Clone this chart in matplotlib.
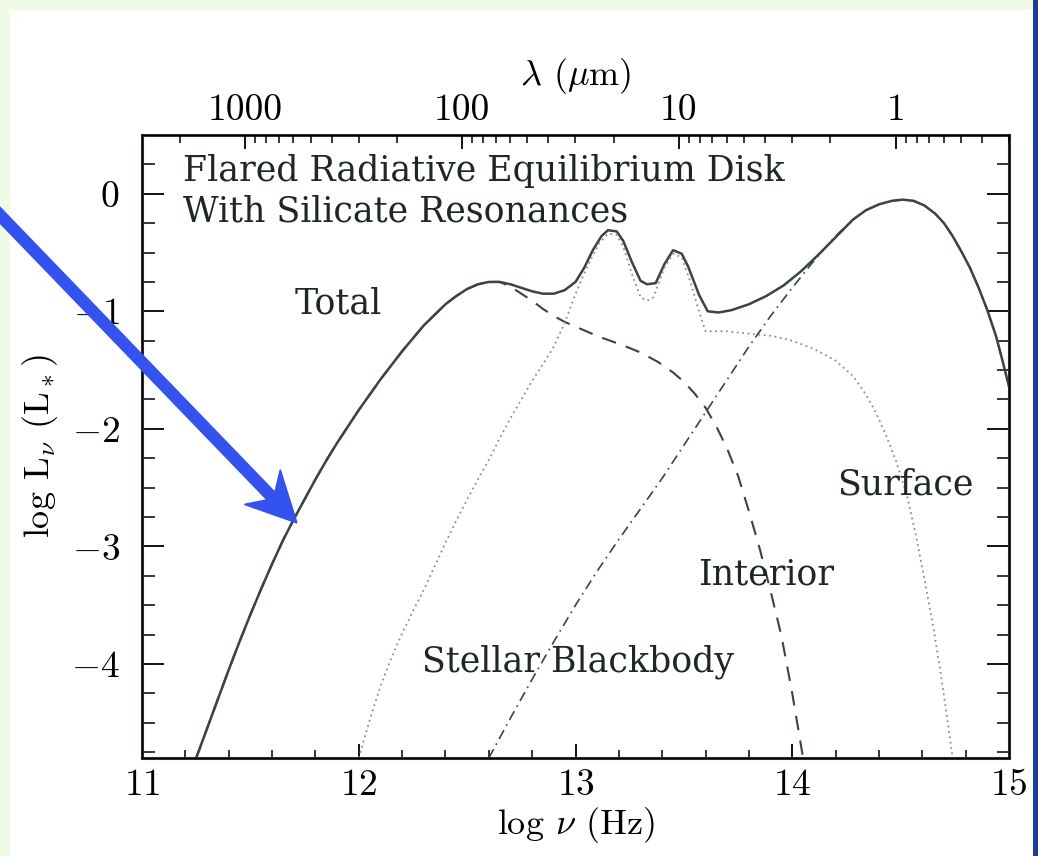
import matplotlib
matplotlib.use("Agg")
import matplotlib.pyplot as plt
from matplotlib.patches import Rectangle, FancyArrow
import numpy as np

plt.rcParams['font.family'] = 'cmr10'
plt.rcParams['mathtext.fontset'] = 'cm'
plt.rcParams['axes.formatter.use_mathtext'] = True

# log nu (Hz), log L_nu (L_*)
total_x = [11.25, 11.30, 11.35, 11.40, 11.45, 11.50, 11.55, 11.60, 11.65, 11.70,
           11.75, 11.80, 11.85, 11.90, 11.95, 12.00, 12.05, 12.10, 12.15, 12.20,
           12.25, 12.30, 12.35, 12.40, 12.45, 12.50, 12.55, 12.60, 12.65, 12.70,
           12.75, 12.80, 12.85, 12.90, 12.95, 13.00, 13.04, 13.08, 13.12, 13.15,
           13.19, 13.22, 13.26, 13.30, 13.33, 13.37, 13.41, 13.45, 13.49, 13.52,
           13.57, 13.61, 13.66, 13.72, 13.80, 13.88, 13.96, 14.04, 14.12, 14.20,
           14.28, 14.34, 14.40, 14.46, 14.51, 14.56, 14.61, 14.66, 14.70, 14.74,
           14.78, 14.82, 14.86, 14.90, 14.94, 14.97, 15.00]
total_y = [-4.80, -4.55, -4.30, -4.05, -3.81, -3.58, -3.36, -3.15, -2.95, -2.77,
           -2.60, -2.43, -2.27, -2.12, -1.98, -1.84, -1.71, -1.58, -1.46, -1.34,
           -1.23, -1.12, -1.03, -0.94, -0.87, -0.81, -0.77, -0.75, -0.75, -0.77,
           -0.80, -0.83, -0.85, -0.85, -0.82, -0.75, -0.63, -0.48, -0.36, -0.31,
           -0.32, -0.40, -0.58, -0.74, -0.77, -0.76, -0.60, -0.48, -0.51, -0.62,
           -0.86, -1.00, -1.01, -0.99, -0.94, -0.87, -0.78, -0.66, -0.52, -0.37,
           -0.22, -0.14, -0.09, -0.06, -0.05, -0.06, -0.10, -0.17, -0.25, -0.36,
           -0.49, -0.63, -0.80, -0.99, -1.21, -1.42, -1.64]

interior_x = [11.25, 11.30, 11.35, 11.40, 11.45, 11.50, 11.55, 11.60, 11.65, 11.70,
              11.75, 11.80, 11.85, 11.90, 11.95, 12.00, 12.05, 12.10, 12.15, 12.20,
              12.25, 12.30, 12.35, 12.40, 12.45, 12.50, 12.55, 12.60, 12.65, 12.70,
              12.75, 12.80, 12.85, 12.90, 12.95, 13.00, 13.05, 13.10, 13.16, 13.22,
              13.30, 13.38, 13.45, 13.50, 13.55, 13.60, 13.65, 13.70, 13.75, 13.80,
              13.85, 13.90, 13.95, 14.00, 14.05]
interior_y = [-4.80, -4.55, -4.30, -4.05, -3.81, -3.58, -3.36, -3.15, -2.95, -2.77,
              -2.60, -2.43, -2.27, -2.12, -1.98, -1.84, -1.71, -1.58, -1.46, -1.34,
              -1.23, -1.12, -1.03, -0.94, -0.87, -0.81, -0.77, -0.75, -0.75, -0.79,
              -0.85, -0.91, -0.98, -1.04, -1.09, -1.13, -1.17, -1.21, -1.25, -1.29,
              -1.35, -1.43, -1.52, -1.60, -1.70, -1.82, -1.98, -2.17, -2.40, -2.70,
              -3.02, -3.38, -3.76, -4.25, -4.80]

surface_x = [12.00, 12.05, 12.10, 12.15, 12.20, 12.25, 12.30, 12.35, 12.40, 12.45,
             12.50, 12.55, 12.61, 12.65, 12.70, 12.75, 12.80, 12.85, 12.90, 12.95,
             12.99, 13.03, 13.07, 13.11, 13.15, 13.19, 13.22, 13.26, 13.30, 13.33,
             13.36, 13.41, 13.45, 13.49, 13.53, 13.57, 13.60, 13.70, 13.80, 13.91,
             14.00, 14.10, 14.20, 14.28, 14.33, 14.38, 14.43, 14.48, 14.53, 14.57,
             14.61, 14.65, 14.68, 14.71, 14.74]
surface_y = [-4.80, -4.48, -4.19, -3.95, -3.74, -3.55, -3.37, -3.17, -2.97, -2.78,
             -2.60, -2.43, -2.23, -2.08, -1.91, -1.75, -1.59, -1.45, -1.30, -1.10,
             -0.90, -0.72, -0.56, -0.42, -0.34, -0.35, -0.45, -0.68, -0.88, -0.91,
             -0.88, -0.63, -0.51, -0.54, -0.75, -1.00, -1.17, -1.17, -1.19, -1.21,
             -1.25, -1.32, -1.42, -1.55, -1.68, -1.84, -2.04, -2.28, -2.57, -2.90,
             -3.28, -3.68, -4.02, -4.40, -4.80]

star_x = [12.60, 12.70, 12.80, 12.90, 13.00, 13.10, 13.20, 13.30, 13.40, 13.50,
          13.60, 13.70, 13.80, 13.90, 14.00, 14.10, 14.20, 14.28, 14.34, 14.40,
          14.46, 14.51, 14.56, 14.61, 14.66, 14.70, 14.74, 14.78, 14.82, 14.86,
          14.90, 14.94, 14.97, 15.00]
star_y = [-4.80, -4.46, -4.13, -3.81, -3.50, -3.21, -2.94, -2.68, -2.42, -2.14,
          -1.86, -1.58, -1.30, -1.04, -0.80, -0.57, -0.36, -0.22, -0.14, -0.09,
          -0.06, -0.05, -0.06, -0.10, -0.17, -0.25, -0.36, -0.49, -0.63, -0.80,
          -0.99, -1.21, -1.42, -1.64]

wave_major = [1000, 100, 10, 1]
wave_labels = ['1000', '100', '10', '1']

W, H = 1038, 856
fig = plt.figure(figsize=(W / 100, H / 100), dpi=100, facecolor='#effbe4')
# white page area and dark blue strip at the right
fig.add_artist(Rectangle((10 / W, 0), 1023 / W, (H - 10) / H, transform=fig.transFigure,
                         facecolor='white', edgecolor='none', zorder=-10))
fig.add_artist(Rectangle((1033 / W, 0), 5 / W, 1, transform=fig.transFigure,
                         facecolor='#1b3f93', edgecolor='none', zorder=-10))

ax = fig.add_axes([142 / W, (H - 758) / H, (1009 - 142) / W, (758 - 135) / H])
ax.set_facecolor('white')

lc = '#3a4444'
ax.plot(total_x, total_y, color=lc, lw=1.8)
ax.plot(interior_x, interior_y, color=lc, lw=1.5, dashes=(7, 5))
ax.plot(surface_x, surface_y, color='#8a9090', lw=1.3, dashes=(1, 2))
ax.plot(star_x, star_y, color=lc, lw=1.2, dashes=(6, 3, 1, 3))

ax.set_xlim(11, 15)
ax.set_ylim(-4.8, 0.5)
ax.set_xticks([11, 12, 13, 14, 15])
ax.set_xticks(np.arange(11, 15.01, 0.2), minor=True)
ax.set_yticks([-4, -3, -2, -1, 0])
ax.set_yticks(np.arange(-4.75, 0.5, 0.25), minor=True)
ax.tick_params(axis='x', which='major', direction='in', length=10, width=1.3,
               labelsize=27, pad=8, top=False)
ax.tick_params(axis='x', which='minor', direction='in', length=6, width=1.1, top=False)
ax.tick_params(axis='y', which='major', direction='in', length=16, width=1.3,
               labelsize=27, pad=16, right=True)
ax.tick_params(axis='y', which='minor', direction='in', length=9, width=1.1, right=True)
for s in ax.spines.values():
    s.set_linewidth(2.2)
    s.set_color('#2a3434')

ax.set_xlabel(r'log $\nu$ (Hz)', fontsize=26, labelpad=2)
ax.set_ylabel(r'log L$_\nu$ (L$_*$)', fontsize=26, labelpad=8)

# wavelength axis on top: lambda(um) = 3e14 / nu
top = ax.twiny()
top.set_xlim(ax.get_xlim())
lg_c = np.log10(2.998e14)
top.set_xticks([lg_c - np.log10(w) for w in wave_major])
top.set_xticklabels(wave_labels)
minor = []
for dec in [1000, 100, 10, 1, 0.1]:
    for k in range(2, 10):
        p = lg_c - np.log10(k * dec)
        if 11 < p < 15:
            minor.append(p)
top.set_xticks(minor, minor=True)
top.tick_params(axis='x', which='major', direction='in', length=10, width=1.3,
                labelsize=27, pad=6)
top.tick_params(axis='x', which='minor', direction='in', length=6, width=1.1)
top.set_xlabel(r'$\lambda$ ($\mu$m)', fontsize=26, labelpad=6)

tf = dict(family='DejaVu Serif', fontsize=25, color='#1e2626')
ax.text(11.19, 0.19, 'Flared Radiative Equilibrium Disk', ha='left', va='center', **tf)
ax.text(11.19, -0.15, 'With Silicate Resonances', ha='left', va='center', **tf)
ax.text(11.905, -0.93, 'Total', ha='center', va='center', **tf)
ax.text(14.52, -2.47, 'Surface', ha='center', va='center', **tf)
ax.text(13.88, -3.24, 'Interior', ha='center', va='center', **tf)
ax.text(13.01, -3.98, 'Stellar Blackbody', ha='center', va='center', **tf)

# blue arrow (figure inches, origin bottom left)
fig.add_artist(FancyArrow(-0.05, (H - 210) / 100, 3.02, -(523 - 210) / 100,
                          width=0.11, head_width=0.5, head_length=0.5, overhang=0.25,
                          length_includes_head=True, transform=fig.dpi_scale_trans,
                          color='#3452ee', zorder=20))

fig.savefig('out.png', dpi=100, facecolor=fig.get_facecolor())
